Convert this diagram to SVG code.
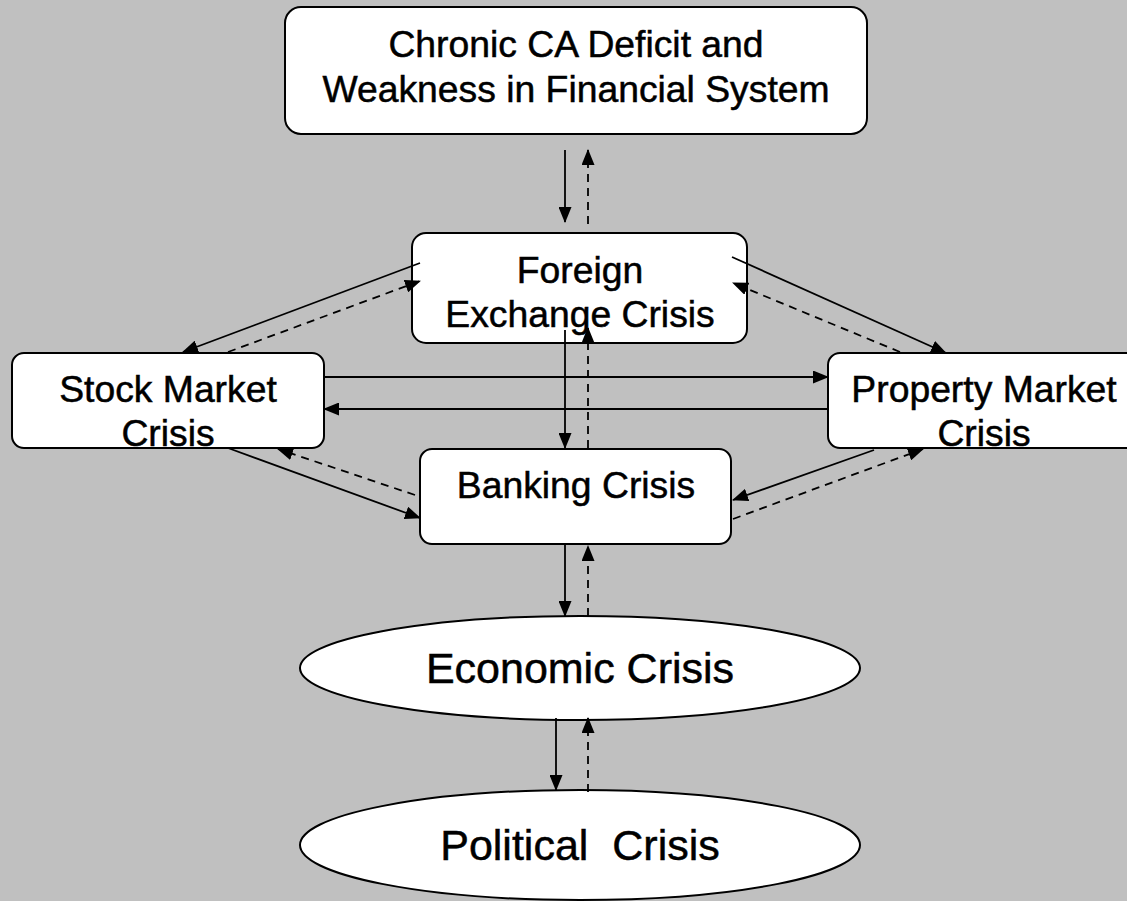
<svg xmlns="http://www.w3.org/2000/svg" width="1127" height="901" viewBox="0 0 1127 901">
<defs>
<marker id="ah" markerUnits="userSpaceOnUse" markerWidth="16" markerHeight="13" refX="15" refY="6.5" orient="auto">
<path d="M0,0 L16,6.5 L0,13 z" fill="#000"/>
</marker>
<style>
.box{fill:#fff;stroke:#000;stroke-width:2}
.t{font-family:"Liberation Sans",Arial,sans-serif;font-size:37.3px;fill:#000;stroke:#000;stroke-width:0.5;text-anchor:middle}
.tl{font-family:"Liberation Sans",Arial,sans-serif;font-size:43px;fill:#000;stroke:#000;stroke-width:0.5;text-anchor:middle;white-space:pre}
.s{stroke:#000;stroke-width:1.8;fill:none;marker-end:url(#ah)}
.d{stroke:#000;stroke-width:1.8;fill:none;stroke-dasharray:8 6;marker-end:url(#ah)}
</style>
</defs>
<rect width="1127" height="901" fill="#C0C0C0"/>
<g id="top">
<rect class="box" x="285" y="7" width="582" height="127" rx="16"/>
<text class="t" x="576" y="57">Chronic CA Deficit and</text>
<text class="t" x="576" y="102">Weakness in Financial System</text>
</g>
<g id="fx">
<rect class="box" x="412" y="233" width="335" height="110" rx="14"/>
<text class="t" x="580" y="283">Foreign</text>
<text class="t" x="580" y="327">Exchange Crisis</text>
</g>
<g id="stock">
<rect class="box" x="12" y="353" width="312" height="95" rx="12"/>
<text class="t" x="168" y="402">Stock Market</text>
<text class="t" x="168" y="446">Crisis</text>
</g>
<g id="property">
<rect class="box" x="828" y="353" width="312" height="95" rx="12"/>
<text class="t" x="984" y="402">Property Market</text>
<text class="t" x="984" y="446">Crisis</text>
</g>
<g id="banking">
<rect class="box" x="420" y="449" width="311" height="95" rx="12"/>
<text class="t" x="576" y="498">Banking Crisis</text>
</g>
<g id="economic">
<ellipse class="box" cx="580" cy="668" rx="280" ry="52"/>
<text class="tl" x="580" y="683">Economic Crisis</text>
</g>
<g id="political">
<ellipse class="box" cx="580" cy="845" rx="280" ry="55"/>
<text class="tl" x="580" y="860" xml:space="preserve">Political  Crisis</text>
</g>
<g id="connectors">
<line class="s" x1="565" y1="150" x2="565" y2="222"/>
<line class="d" x1="588" y1="224" x2="588" y2="150"/>
<line class="s" x1="420" y1="263" x2="183" y2="352"/>
<line class="d" x1="228" y1="352" x2="420" y2="281"/>
<line class="s" x1="732" y1="257" x2="946" y2="353"/>
<line class="d" x1="900" y1="352" x2="733" y2="283"/>
<line class="s" x1="324" y1="377" x2="828" y2="377"/>
<line class="s" x1="828" y1="409" x2="324" y2="409"/>
<line class="s" x1="565" y1="330" x2="565" y2="448"/>
<line class="d" x1="588" y1="448" x2="588" y2="328"/>
<line class="s" x1="228" y1="448" x2="420" y2="518"/>
<line class="d" x1="415" y1="495" x2="278" y2="449"/>
<line class="s" x1="874" y1="450" x2="733" y2="500"/>
<line class="d" x1="733" y1="519" x2="923" y2="449"/>
<line class="s" x1="565" y1="544" x2="565" y2="616"/>
<line class="d" x1="588" y1="616" x2="588" y2="546"/>
<line class="s" x1="556" y1="718" x2="556" y2="790"/>
<line class="d" x1="588" y1="792" x2="588" y2="718"/>
</g>
</svg>
